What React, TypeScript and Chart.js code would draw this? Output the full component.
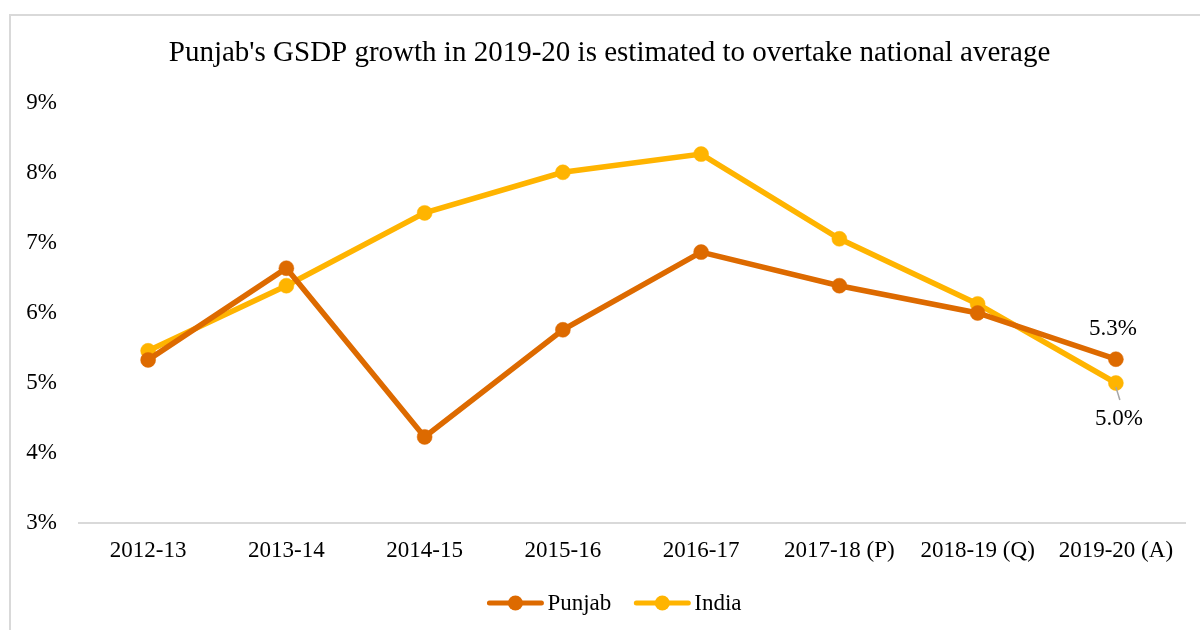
import React, { useEffect, useRef } from 'react';
import { Chart, registerables } from 'chart.js';

Chart.register(...registerables);

const categories = ['2012-13', '2013-14', '2014-15', '2015-16', '2016-17', '2017-18 (P)', '2018-19 (Q)', '2019-20 (A)'];
const punjabValues = [5.33, 6.64, 4.23, 5.76, 6.87, 6.39, 6.0, 5.34];
const indiaValues = [5.46, 6.39, 7.43, 8.01, 8.27, 7.06, 6.13, 5.0];
const seriesNames = ['Punjab', 'India'];
const seriesColors = ['#dd6a00', '#ffb400'];
const yMin = 3;
const yMax = 9;
const yStep = 1;
const titleText = "Punjab's GSDP growth in 2019-20 is estimated to overtake national average";

const FONT = "'Liberation Serif', 'Times New Roman', Times, serif";

const decorPlugin = {
  id: 'decor',
  afterDraw(chart: any) {
    const ctx = chart.ctx as CanvasRenderingContext2D;
    ctx.save();
    // Title
    ctx.fillStyle = '#000';
    ctx.font = `29px ${FONT}`;
    ctx.textAlign = 'center';
    ctx.textBaseline = 'middle';
    ctx.fillText(titleText, 609.5, 53);

    // Legend
    ctx.font = `23px ${FONT}`;
    const sampleW = 56;
    const gapText = 4;
    const gapItem = 23;
    const widths = seriesNames.map((n) => ctx.measureText(n).width);
    let total = 0;
    widths.forEach((w, i) => {
      total += sampleW + gapText + w + (i < widths.length - 1 ? gapItem : 0);
    });
    let x = 614.5 - total / 2;
    const ly = 603;
    seriesNames.forEach((name, i) => {
      ctx.strokeStyle = seriesColors[i];
      ctx.lineWidth = 5;
      ctx.lineCap = 'round';
      ctx.beginPath();
      ctx.moveTo(x + 2, ly);
      ctx.lineTo(x + sampleW - 2, ly);
      ctx.stroke();
      ctx.fillStyle = seriesColors[i];
      ctx.beginPath();
      ctx.arc(x + sampleW / 2, ly, 7.5, 0, Math.PI * 2);
      ctx.fill();
      ctx.fillStyle = '#000';
      ctx.textAlign = 'left';
      ctx.textBaseline = 'middle';
      ctx.fillText(name, x + sampleW + gapText, ly + 1);
      x += sampleW + gapText + widths[i] + gapItem;
    });

    // Data labels on last points
    const xs = chart.scales.x;
    const ys = chart.scales.y;
    const last = categories.length - 1;
    const px = xs.getPixelForValue(last);
    const pY = ys.getPixelForValue(punjabValues[last]);
    const iY = ys.getPixelForValue(indiaValues[last]);
    ctx.font = `23px ${FONT}`;
    ctx.fillStyle = '#000';
    ctx.textAlign = 'center';
    ctx.textBaseline = 'middle';
    ctx.fillText(punjabValues[last].toFixed(1) + '%', px - 3, pY - 30);
    ctx.strokeStyle = '#a6a6a6';
    ctx.lineWidth = 1.5;
    ctx.lineCap = 'butt';
    ctx.beginPath();
    ctx.moveTo(px, iY + 4);
    ctx.lineTo(px + 4, iY + 17);
    ctx.stroke();
    ctx.fillText(indiaValues[last].toFixed(1) + '%', px + 3, iY + 36);
    ctx.restore();
  },
};

export default function App() {
  const ref = useRef<HTMLCanvasElement | null>(null);

  useEffect(() => {
    if (!ref.current) return;
    const chart = new Chart(ref.current, {
      type: 'line',
      data: {
        labels: categories,
        datasets: [
          {
            label: seriesNames[0],
            data: punjabValues,
            borderColor: seriesColors[0],
            backgroundColor: seriesColors[0],
            pointBackgroundColor: seriesColors[0],
            pointBorderColor: seriesColors[0],
            borderWidth: 5.5,
            pointRadius: 7.5,
            pointBorderWidth: 0.5,
            tension: 0,
            fill: false,
          },
          {
            label: seriesNames[1],
            data: indiaValues,
            borderColor: seriesColors[1],
            backgroundColor: seriesColors[1],
            pointBackgroundColor: seriesColors[1],
            pointBorderColor: seriesColors[1],
            borderWidth: 5.5,
            pointRadius: 7.5,
            pointBorderWidth: 0.5,
            tension: 0,
            fill: false,
          },
        ],
      },
      options: {
        responsive: false,
        animation: false,
        devicePixelRatio: 1,
        layout: { padding: { top: 103, left: 0, right: 15, bottom: 57 } },
        plugins: {
          legend: { display: false },
          title: { display: false },
          tooltip: { enabled: false },
        },
        scales: {
          x: {
            offset: true,
            grid: { display: false, drawTicks: false },
            border: { display: true, color: '#d9d9d9', width: 2 },
            ticks: { color: '#000', font: { family: FONT, size: 23 }, padding: 14, maxRotation: 0, autoSkip: false },
            afterFit: (s: any) => { s.height = 50; },
          },
          y: {
            min: yMin,
            max: yMax,
            grid: { display: false, drawTicks: false },
            border: { display: false },
            ticks: {
              stepSize: yStep,
              color: '#000',
              font: { family: FONT, size: 23 },
              padding: 22,
              callback: (v: any) => `${v}%`,
            },
            afterFit: (s: any) => { s.width = 79; },
          },
        },
      },
      plugins: [decorPlugin],
    });
    return () => chart.destroy();
  }, []);

  return (
    <div style={{ position: 'fixed', left: 0, top: 0, width: 1200, height: 630, overflow: 'hidden', background: '#fff' }}>
      <div
        style={{
          position: 'absolute',
          left: 9,
          top: 14,
          width: 1400,
          height: 800,
          border: '2px solid #d9d9d9',
          boxSizing: 'border-box',
        }}
      />
      <canvas ref={ref} width={1200} height={630} style={{ position: 'absolute', left: 0, top: 0, width: 1200, height: 630 }} />
    </div>
  );
}
